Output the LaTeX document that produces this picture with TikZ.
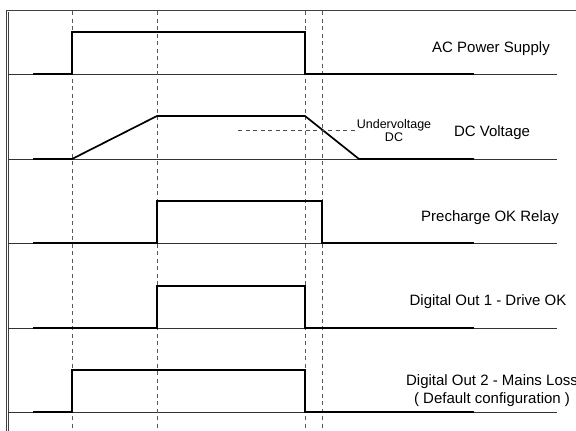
\documentclass[tikz,border=0pt]{standalone}
\usepackage{fontspec}
\setmainfont{Liberation Sans}
\usetikzlibrary{arrows.meta}

\begin{document}
\begin{tikzpicture}[
  x=1pt, y=-1pt,
  font=\fontsize{15}{18}\selectfont,
  sig/.style={line width=1.7pt, black, line join=miter},
  base/.style={line width=0.8pt, black!80},
  frm/.style={line width=0.9pt, black!75},
  guide/.style={line width=0.8pt, black!65, dash pattern=on 4pt off 3.5pt},
  lvl/.style={line width=0.8pt, black!70, dash pattern=on 4pt off 3.5pt},
  lbl/.style={inner sep=0pt, align=center},
  small/.style={inner sep=0pt, align=center, font=\fontsize{12.5}{13}\selectfont}
]
\useasboundingbox (0,0) rectangle (576,431);
% frame
\draw[frm] (6,431) -- (6,10) -- (576,10);
\draw[frm] (8,431) -- (8,12);
% time axes and guides
\foreach \y in {74,159,243,328,412} \draw[base] (8,\y) -- (557,\y);
\foreach \x in {72,157,305,322} \draw[guide] (\x,11) -- (\x,431);
% signals
\draw[sig] (33,74) -- (72,74) -- (72,32) -- (305,32) -- (305,74) -- (474,74);
\draw[sig] (33,159) -- (72,159) -- (157,116) -- (305,116) -- (359,159) -- (474,159);
\draw[lvl] (238,130) -- (355,130);
\draw[sig] (33,243) -- (157,243) -- (157,201) -- (322,201) -- (322,243) -- (474,243);
\draw[sig] (33,328) -- (157,328) -- (157,286) -- (305,286) -- (305,328) -- (474,328);
\draw[sig] (33,412) -- (72,412) -- (72,370) -- (305,370) -- (305,412) -- (474,412);
% labels
\node[lbl] (ac) at (491,49) {AC Power Supply};
\node[lbl] (dc) at (492,133) {DC Voltage};
\node[small] (uv) at (394,131) {Undervoltage\\DC};
\node[lbl] (pre) at (490,218) {Precharge OK Relay};
\node[lbl] (do1) at (488,302) {Digital Out 1 - Drive OK};
\node[lbl] (do2) at (492,391) {Digital Out 2 - Mains Loss\\( Default configuration )};
\end{tikzpicture}
\end{document}
